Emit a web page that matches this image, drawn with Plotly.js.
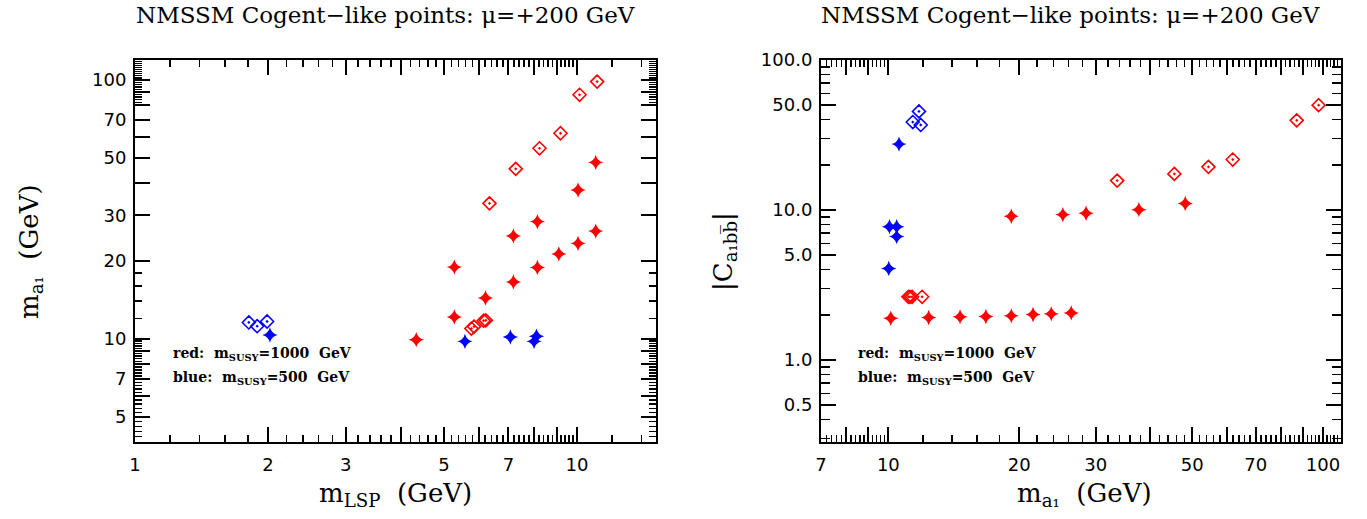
<!DOCTYPE html>
<html><head><meta charset="utf-8">
<script src="https://cdn.plot.ly/plotly-3.0.1.min.js"></script>
<style>html,body{margin:0;padding:0;background:#fff}#chart{width:1367px;height:519px}</style>
</head><body><div id="chart"></div>
<script>
// ---------- Left panel: m_a1 vs m_LSP ----------
var L_lsp_redDia  = [11.11, 10.14, 9.18, 8.23, 7.27, 6.34, 6.15, 6.22, 5.77, 5.85];
var L_ma1_redDia  = [98.6, 87.7, 62.3, 54.5, 45.4, 33.4, 11.76, 11.80, 10.97, 11.16];
var L_lsp_redCr   = [11.03, 10.06, 8.14, 7.18, 11.03, 10.06, 9.10, 8.14, 7.18, 5.28, 6.21, 5.28, 4.33];
var L_ma1_redCr   = [48.1, 37.6, 28.4, 25.0, 26.1, 23.4, 21.3, 18.9, 16.6, 18.95, 14.4, 12.15, 9.94];
var L_lsp_blueDia = [1.81, 1.89, 1.99];
var L_ma1_blueDia = [11.58, 11.2, 11.68];
var L_lsp_blueCr  = [2.02, 5.58, 7.07, 8.00, 8.10];
var L_ma1_blueCr  = [10.36, 9.79, 10.18, 9.79, 10.24];

// ---------- Right panel: |C_a1bb| vs m_a1 ----------
var R_ma1_redDia  = [97.7, 87.0, 62.0, 54.5, 45.5, 33.6, 11.12, 11.22, 11.34, 11.96];
var R_C_redDia    = [50.0, 39.6, 21.7, 19.4, 17.4, 15.7, 2.64, 2.64, 2.64, 2.64];
var R_ma1_redCr   = [10.13, 12.38, 14.62, 16.76, 19.18, 21.52, 23.7, 26.35, 19.18, 25.2, 28.5, 37.7, 48.2];
var R_C_redCr     = [1.90, 1.92, 1.94, 1.95, 1.97, 2.01, 2.03, 2.06, 9.08, 9.32, 9.51, 10.05, 11.07];
var R_ma1_blueDia = [11.76, 11.38, 11.87];
var R_C_blueDia   = [45.4, 38.6, 36.9];
var R_ma1_blueCr  = [10.58, 10.06, 10.45, 10.45, 10.02];
var R_C_blueCr    = [27.5, 7.73, 7.73, 6.67, 4.08];

// ---------- Tick labels ----------
var LX_labels = [1, 2, 3, 5, 7, 10];
var LY_labels = [5, 7, 10, 20, 30, 50, 70, 100];
var RX_labels = [7, 10, 20, 30, 50, 70, 100];
var RY_labels = [0.5, 1, 5, 10, 50, 100];
var RY_text   = ['0.5', '1.0', '5.0', '10.0', '50.0', '100.0'];

var titleText = 'NMSSM Cogent\u2212like points: \u03bc=+200 GeV';
var noteRed  = 'red:  m<sub>SUSY</sub>=1000  GeV';
var noteBlue = 'blue:  m<sub>SUSY</sub>=500  GeV';

function round(v){ return Math.round(v*1000)/1000; }
function majors(lo, hi){
  var out=[];
  for (var k=-2;k<=3;k++){ for (var d=1; d<=9; d++){ var v=round(d*Math.pow(10,k)); if (v>=lo-1e-9 && v<=hi+1e-9) out.push(v);} }
  return out;
}
function minors(lo, hi, ranges){
  var out=[];
  ranges.forEach(function(r){
    for (var v=r[0]; v<=r[1]+1e-9; v+=r[2]){ var x=round(v); if (x>=lo && x<=hi) out.push(x);} });
  var maj = majors(lo,hi);
  return out.filter(function(x){ return maj.indexOf(x)<0; });
}
function textsFor(vals, labs, txt){
  return vals.map(function(v){ var i=labs.indexOf(v); return i<0?'':(txt?txt[i]:String(v)); });
}
var FONT_T = 'DejaVu Sans';
function axis(domain, lo, hi, labs, txt, minorVals, anchor, majorList){
  var maj = majorList || majors(lo,hi);
  return {
    type:'log', domain:domain, range:[Math.log10(lo), Math.log10(hi)], anchor:anchor,
    showline:true, linewidth:2, linecolor:'#000', mirror:'allticks',
    ticks:'inside', ticklen:15, tickwidth:2, tickcolor:'#000',
    tickmode:'array', tickvals:maj, ticktext:textsFor(maj, labs, txt),
    tickfont:{family:FONT_T, size:18, color:'#000'}, ticklabelstandoff:5,
    minor:{tickmode:'array', tickvals:minorVals, ticks:'inside', ticklen:7, tickwidth:1.5, tickcolor:'#000', showgrid:false},
    showgrid:false, zeroline:false, automargin:false, fixedrange:true
  };
}

var W=1367, H=519;
var dLX=[135/W, 656/W], dRX=[821/W, 1341/W], dY=[1-442/H, 1-60/H];

var LXmin = minors(1, 15.1, [[1,10,0.2],[10,20,2]]);
var LYmin = minors(4, 119.5, [[4,10,0.2],[10,20,2],[80,120,2]]);
var RXmin = minors(7, 110, [[7,10,0.2],[10,110,2]]);
var RYmajor = RY_labels.slice();
var RYmin = majors(0.284,100).filter(function(v){return RY_labels.indexOf(v)<0;});

var layout = {
  width:W, height:H, margin:{l:0,r:0,t:0,b:0}, showlegend:false,
  paper_bgcolor:'#fff', plot_bgcolor:'#fff',
  xaxis:  axis(dLX, 1, 15.1, LX_labels, null, LXmin, 'y'),
  yaxis:  axis(dY, 4, 119.5, LY_labels, null, LYmin, 'x'),
  xaxis2: axis(dRX, 6.999, 110, RX_labels, null, RXmin, 'y2'),
  yaxis2: axis(dY, 0.284, 100, RY_labels, RY_text, RYmin, 'x2', RYmajor),
  annotations:[]
};
layout.yaxis2.minor.ticklen = 9;
layout.yaxis.ticklabelstandoff = 3;
layout.yaxis2.ticklabelstandoff = 3;

function ann(text, x, y, opts){
  var a = {text:text, xref:'paper', yref:'paper', x:x/W, y:1-y/H, showarrow:false,
    xanchor:'center', yanchor:'middle', font:{family:'DejaVu Serif', size:20, color:'#000'}};
  for (var k in opts) a[k]=opts[k];
  return a;
}
var tf = {family:'DejaVu Serif', size:23, color:'#000'};
var af = {family:'DejaVu Serif', size:26, color:'#000'};
layout.annotations.push(ann(titleText, 385, 15, {font:tf}));
layout.annotations.push(ann(titleText, 1070, 15, {font:tf}));
layout.annotations.push(ann('m<sub>LSP</sub>  (GeV)', 396, 494, {font:af}));
layout.annotations.push(ann('m<sub>a\u2081</sub>  (GeV)', 1084, 494, {font:af}));
layout.annotations.push(ann('m<sub>a\u2081</sub>  (GeV)', 30, 252, {textangle:-90, font:af}));
layout.annotations.push(ann('|C<sub>a\u2081bb\u0305</sub>|', 724, 252, {textangle:-90, font:af}));
var nf = {family:'DejaVu Serif', size:14, color:'#000', weight:'bold'};
layout.annotations.push(ann(noteRed, 171, 354, {xanchor:'left', font:nf}));
layout.annotations.push(ann(noteBlue, 171, 378, {xanchor:'left', font:nf}));
layout.annotations.push(ann(noteRed, 856, 354, {xanchor:'left', font:nf}));
layout.annotations.push(ann(noteBlue, 856, 378, {xanchor:'left', font:nf}));

function dia(x,y,c,xa,ya){ return {type:'scatter', mode:'markers', x:x, y:y, xaxis:xa, yaxis:ya, hoverinfo:'skip',
  marker:{symbol:'diamond-open-dot', size:10, color:c, line:{width:1.6, color:c}}}; }
function crs(x,y,c,xa,ya){ return {type:'scatter', mode:'markers', x:x, y:y, xaxis:xa, yaxis:ya, hoverinfo:'skip',
  marker:{symbol:'star-diamond', size:11, color:c, line:{width:0}}}; }

var data = [
  dia(L_lsp_redDia, L_ma1_redDia, '#ff0000', 'x', 'y'),
  crs(L_lsp_redCr, L_ma1_redCr, '#ff0000', 'x', 'y'),
  dia(L_lsp_blueDia, L_ma1_blueDia, '#0000ff', 'x', 'y'),
  crs(L_lsp_blueCr, L_ma1_blueCr, '#0000ff', 'x', 'y'),
  dia(R_ma1_redDia, R_C_redDia, '#ff0000', 'x2', 'y2'),
  crs(R_ma1_redCr, R_C_redCr, '#ff0000', 'x2', 'y2'),
  dia(R_ma1_blueDia, R_C_blueDia, '#0000ff', 'x2', 'y2'),
  crs(R_ma1_blueCr, R_C_blueCr, '#0000ff', 'x2', 'y2')
];
Plotly.newPlot('chart', data, layout, {staticPlot:true, displayModeBar:false});
</script></body></html>
